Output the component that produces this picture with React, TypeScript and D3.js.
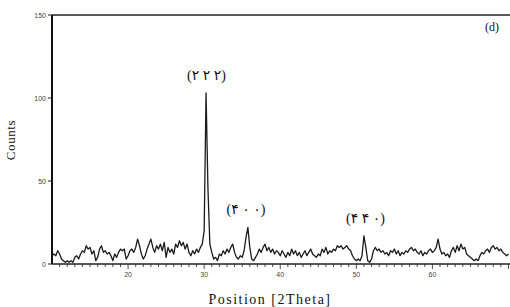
import React, { useEffect, useRef } from 'react';
import * as d3 from 'd3';

// 2-theta start and step of the scan
const thetaStart = 10;
const thetaStep = 0.25;

// counts, one per 0.25 degree from 10 to 70
const counts = [
  5, 6, 5, 8, 6, 3, 2, 1, 2, 1, 2, 1, 4, 5, 3, 6, 8, 7, 11, 9,
  10, 6, 8, 2, 4, 9, 11, 7, 8, 6, 7, 5, 2, 6, 4, 7, 9, 8, 9, 3,
  5, 8, 9, 7, 10, 15, 11, 6, 3, 5, 9, 12, 15, 10, 7, 11, 9, 12, 8, 13,
  4, 10, 7, 9, 6, 12, 10, 14, 11, 13, 9, 12, 7, 5, 8, 6, 9, 7, 10, 12,
  20, 103, 45, 12, 7, 3, 4, 2, 6, 5, 8, 6, 9, 7, 10, 12, 7, 4, 3, 5,
  4, 8, 16, 22, 10, 3, 2, 4, 6, 9, 7, 10, 12, 8, 10, 7, 9, 6, 8, 7,
  5, 8, 6, 4, 7, 5, 9, 6, 8, 5, 7, 4, 6, 8, 5, 7, 9, 6, 5, 4,
  6, 5, 9, 7, 10, 6, 8, 7, 9, 8, 11, 10, 11, 9, 10, 11, 9, 8, 5, 3,
  2, 3, 2, 5, 17, 10, 2, 1, 3, 8, 10, 8, 9, 7, 8, 6, 7, 5, 8, 7,
  9, 6, 8, 5, 7, 6, 8, 7, 9, 10, 8, 9, 7, 6, 8, 5, 7, 6, 8, 9,
  7, 8, 10, 15, 9, 6, 7, 5, 6, 4, 8, 10, 7, 11, 8, 12, 9, 10, 6, 5,
  4, 3, 2, 3, 2, 5, 7, 6, 8, 9, 7, 10, 11, 9, 10, 8, 9, 7, 6, 5, 6,
];

const xTicks = [20, 30, 40, 50, 60];
const yTicks = [0, 50, 100, 150];

// Miller indices written with Persian digits
const peakLabels = ['(۲ ۲ ۲)', '(۴ ۰ ۰)', '(۴ ۴ ۰)'];
const peakLabelX = [30.3, 35.5, 51.2];
const peakLabelY = [114, 33, 28];

const App = () => {
  const ref = useRef(null);

  useEffect(() => {
    const width = 510;
    const height = 307;
    const left = 52;
    const top = 15;
    const bottom = 264;

    d3.select(ref.current).selectAll('*').remove();
    const svg = d3.select(ref.current)
      .append('svg')
      .attr('width', width)
      .attr('height', height)
      .style('position', 'absolute')
      .style('left', 0)
      .style('top', 0)
      .style('background', '#fff');

    const x = d3.scaleLinear().domain([10, 70.2]).range([left, width]);
    const y = d3.scaleLinear().domain([0, 150]).range([bottom, top]);

    const points = counts.map((c, i) => [thetaStart + i * thetaStep, c]);

    // minor ticks every degree under the x axis
    const minor = d3.range(11, 71, 1);
    svg.append('g')
      .selectAll('line')
      .data(minor)
      .enter()
      .append('line')
      .attr('x1', d => x(d))
      .attr('x2', d => x(d))
      .attr('y1', bottom)
      .attr('y2', d => bottom + (d % 10 === 0 ? 5 : 3))
      .attr('stroke', '#222')
      .attr('stroke-width', 0.8);

    svg.append('g')
      .selectAll('text')
      .data(xTicks)
      .enter()
      .append('text')
      .attr('x', d => x(d))
      .attr('y', bottom + 13)
      .attr('text-anchor', 'middle')
      .style('font-family', 'Liberation Sans, Arial, sans-serif')
      .style('font-size', '7px')
      .attr('fill', '#444')
      .text(d => d);

    svg.append('g')
      .selectAll('line')
      .data(yTicks)
      .enter()
      .append('line')
      .attr('x1', left - 4)
      .attr('x2', left)
      .attr('y1', d => y(d))
      .attr('y2', d => y(d))
      .attr('stroke', '#222')
      .attr('stroke-width', 1);

    svg.append('g')
      .selectAll('text')
      .data(yTicks)
      .enter()
      .append('text')
      .attr('x', left - 6)
      .attr('y', d => y(d) + 2.5)
      .attr('text-anchor', 'end')
      .style('font-family', 'Liberation Sans, Arial, sans-serif')
      .style('font-size', '7px')
      .attr('fill', '#444')
      .text(d => d);

    // pattern
    const line = d3.line().x(d => x(d[0])).y(d => y(d[1]));
    svg.append('path')
      .datum(points)
      .attr('d', line)
      .attr('fill', 'none')
      .attr('stroke', '#1a1a1a')
      .attr('stroke-width', 1.3)
      .attr('stroke-linejoin', 'round');

    // frame: left, top and bottom
    svg.append('line')
      .attr('x1', left).attr('x2', left)
      .attr('y1', top).attr('y2', bottom)
      .attr('stroke', '#111').attr('stroke-width', 2);
    svg.append('line')
      .attr('x1', left).attr('x2', width)
      .attr('y1', top).attr('y2', top)
      .attr('stroke', '#222').attr('stroke-width', 1.3);
    svg.append('line')
      .attr('x1', left).attr('x2', width)
      .attr('y1', bottom).attr('y2', bottom)
      .attr('stroke', '#222').attr('stroke-width', 1.3);

    svg.append('g')
      .selectAll('text')
      .data(peakLabels)
      .enter()
      .append('text')
      .attr('x', (d, i) => x(peakLabelX[i]))
      .attr('y', (d, i) => y(peakLabelY[i]) + 5)
      .attr('text-anchor', 'middle')
      .style('font-family', 'Liberation Serif, DejaVu Sans, serif')
      .style('font-size', '14px')
      .style('letter-spacing', '2.5px')
      .attr('fill', '#111')
      .text(d => d);

    svg.append('text')
      .attr('x', 499)
      .attr('y', 31)
      .attr('text-anchor', 'end')
      .style('font-family', 'Liberation Serif, serif')
      .style('font-size', '12px')
      .attr('fill', '#111')
      .text('(d)');

    svg.append('text')
      .attr('transform', 'translate(15, 140) rotate(-90)')
      .attr('text-anchor', 'middle')
      .style('font-family', 'Liberation Serif, serif')
      .style('font-size', '13px')
      .style('letter-spacing', '0.6px')
      .attr('fill', '#111')
      .text('Counts');

    svg.append('text')
      .attr('x', 270)
      .attr('y', 304)
      .attr('text-anchor', 'middle')
      .style('font-family', 'Liberation Serif, serif')
      .style('font-size', '14px')
      .style('letter-spacing', '1.5px')
      .attr('fill', '#111')
      .text('Position [2Theta]');
  }, []);

  return <div ref={ref} />;
};

export default App;
